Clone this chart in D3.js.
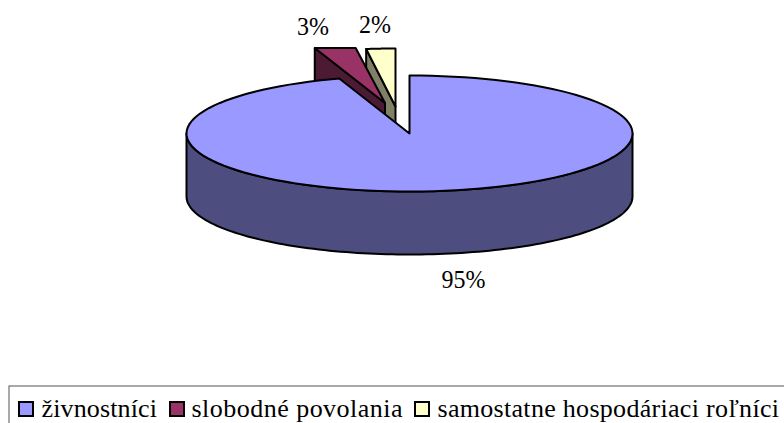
<!DOCTYPE html>
<html><head><meta charset="utf-8">
<style>html,body{margin:0;padding:0;background:#fff;overflow:hidden}svg{display:block}
text{font-family:"Liberation Serif","Times New Roman",serif;fill:#000}</style>
<script src="https://cdnjs.cloudflare.com/ajax/libs/d3/7.8.5/d3.min.js"></script></head>
<body><script>
const categories = ["živnostníci", "slobodné povolania", "samostatne hospodáriaci roľníci"];
const values = [94.9, 3.0, 2.1];
const labels = ["95%", "3%", "2%"];
const topColors = ["#9999FF", "#993366", "#FFFFCC"];
const wallColors = ["#4D4D80", "#4D1A33", "#808066"];

const W = 784, H = 423;
const geo = {cx: 409.5, cy: 133.5, rx: 223, ry: 58, depth: 63, clipTop: 48};
const explode = [[0, 0], [-24.5, -30.5], [-14, -27]];
const labelPos = [[463.5, 288, 44], [313, 35, 32], [375, 33, 32]];
const legendX = [[19, 41.5, 115.5], [170, 191.5, 211], [415, 437.5, 341.5]];

const svg = d3.select("body").append("svg").attr("width", W).attr("height", H);
const arcs = d3.pie().sort(null).value(d => d).startAngle(0).endAngle(2 * Math.PI)(values);
const px = d3.scaleLinear().domain([-1, 1]).range([geo.cx - geo.rx, geo.cx + geo.rx]);
const py = d3.scaleLinear().domain([-1, 1]).range([geo.cy - geo.ry, geo.cy + geo.ry]);
const pt = (a, i, r = 1, dz = 0) => [
  px(r * Math.sin(a)) + explode[i][0],
  Math.max(geo.clipTop, py(-r * Math.cos(a)) + explode[i][1] + dz)
];
const rim = (a0, a1, i, dz = 0) => d3.range(0, 121).map(k => pt(a0 + (a1 - a0) * k / 120, i, 1, dz));
const line = d3.line();
const stroke = s => s.attr("stroke", "#000").attr("stroke-width", 2).attr("stroke-linejoin", "round");

[2, 1, 0].forEach(i => {
  const a = arcs[i];
  const g = svg.append("g");
  if (i > 0) {
    const s = pt(a.startAngle, i), c = pt(0, i, 0);
    g.append("path").attr("d", line([s, c, [c[0], c[1] + geo.depth], [s[0], s[1] + geo.depth]]) + "Z")
      .attr("fill", wallColors[i]).call(stroke);
  }
  if (i === 0) {
    const lo = Math.PI / 2, hi = 3 * Math.PI / 2;
    g.append("path").attr("d", line(rim(lo, hi, i).concat(rim(hi, lo, i, geo.depth))) + "Z")
      .attr("fill", wallColors[i]).call(stroke);
  }
  g.append("path").attr("d", line([pt(0, i, 0)].concat(rim(a.startAngle, a.endAngle, i))) + "Z")
    .attr("fill", topColors[i]).call(stroke);
});

svg.selectAll("text.pct").data(labels).join("text").attr("class", "pct")
  .attr("x", (d, i) => labelPos[i][0] - labelPos[i][2] / 2).attr("y", (d, i) => labelPos[i][1])
  .attr("font-size", 26).attr("textLength", (d, i) => labelPos[i][2])
  .attr("lengthAdjust", "spacingAndGlyphs").text(d => d);

svg.append("rect").attr("x", 9).attr("y", 386).attr("width", W).attr("height", 60)
  .attr("fill", "#fff").attr("stroke", "#555").attr("stroke-width", 1);
const leg = svg.selectAll("g.leg").data(categories).join("g").attr("class", "leg");
leg.append("rect").attr("x", (d, i) => legendX[i][0]).attr("y", 402).attr("width", 14).attr("height", 14)
  .attr("fill", (d, i) => topColors[i]).attr("stroke", "#000").attr("stroke-width", 2);
leg.append("text").attr("x", (d, i) => legendX[i][1]).attr("y", 417).attr("font-size", 26)
  .attr("textLength", (d, i) => legendX[i][2]).attr("lengthAdjust", "spacing").text(d => d);
</script></body></html>
